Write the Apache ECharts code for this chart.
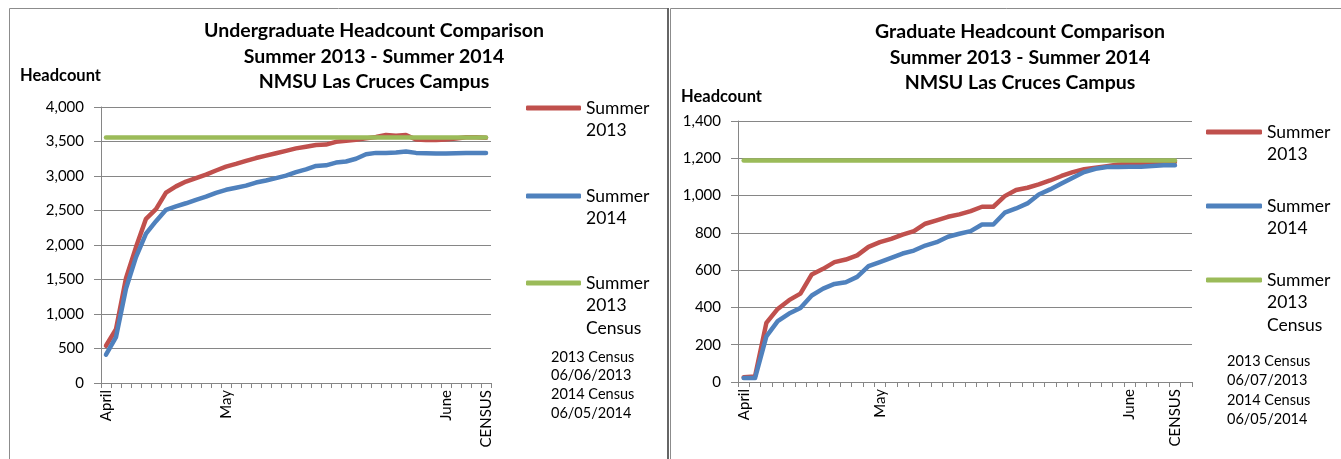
<!DOCTYPE html>
<html><head><meta charset="utf-8">
<script src="https://cdn.jsdelivr.net/npm/echarts@6/dist/echarts.min.js"></script>
<style>html,body{margin:0;padding:0;background:#fff}#c{width:1341px;height:459px}</style>
</head><body><div id="c"></div>
<script>
// ---- Data ----
const ugCategories = ['April','','','','','','','','','','','','May','','','','','','','','','','','','','','','','','','','','','','June','','','','CENSUS'];
const grCategories = ['April','','','','','','','','','','','','May','','','','','','','','','','','','','','','','','','','','','','June','','','','CENSUS',''];

const ug2013 = [540, 780, 1520, 1970, 2380, 2520, 2760, 2850, 2920, 2970, 3020, 3080, 3135, 3175, 3220, 3260, 3295, 3330, 3365, 3400, 3425, 3450, 3455, 3495, 3510, 3525, 3545, 3565, 3595, 3585, 3595, 3530, 3520, 3520, 3530, 3545, 3560, 3560, 3555];
const ug2014 = [410, 665, 1370, 1825, 2165, 2345, 2510, 2560, 2605, 2655, 2700, 2755, 2800, 2830, 2860, 2905, 2935, 2970, 3005, 3055, 3095, 3145, 3155, 3195, 3210, 3250, 3315, 3335, 3335, 3340, 3355, 3335, 3330, 3325, 3325, 3330, 3335, 3335, 3335];
const ugCensus = 3560;

const gr2013 = [25, 30, 317, 392, 439, 474, 577, 607, 643, 657, 679, 725, 750, 768, 791, 809, 849, 867, 886, 899, 917, 940, 940, 997, 1030, 1042, 1060, 1081, 1105, 1126, 1141, 1150, 1158, 1167, 1171, 1173, 1176, 1176, 1180];
const gr2014 = [21, 21, 245, 326, 367, 397, 464, 501, 526, 535, 564, 621, 643, 666, 689, 705, 732, 750, 779, 795, 809, 845, 845, 908, 931, 958, 1006, 1033, 1065, 1096, 1126, 1144, 1153, 1153, 1155, 1155, 1158, 1162, 1162];
const grCensus = 1187;

const ugTitle = 'Undergraduate Headcount Comparison\nSummer 2013 - Summer 2014\nNMSU Las Cruces Campus';
const grTitle = 'Graduate Headcount Comparison\nSummer 2013 - Summer 2014\nNMSU Las Cruces Campus';
const ugNote = '2013 Census\n06/06/2013\n2014 Census\n06/05/2014';
const grNote = '2013 Census\n06/07/2013\n2014 Census\n06/05/2014';
const yName = 'Headcount';
const seriesNames = ['Summer 2013', 'Summer 2014', 'Summer 2013 Census'];
const legendLines = {'Summer 2013': ['Summer', '2013'], 'Summer 2014': ['Summer', '2014'], 'Summer 2013 Census': ['Summer', '2013', 'Census']};

// ---- Styling ----
const FONT = 'Lato, "Noto Sans", sans-serif';
const RED = '#C0504D', BLUE = '#4F81BD', GREEN = '#9BBB59', AXIS = '#868686';
const LW = 4.5, LH = 22.5;

// The legend text block is centred on its icon; leading blank lines put the
// first line of the wrapped label level with the icon, as in the reference.
function legendText(name) {
  const lines = legendLines[name];
  return '\n'.repeat(lines.length - 1) + lines.join('\n');
}
function mkLegend(name, left, iconY, w, nLines) {
  const H = (2 * nLines - 1) * LH;
  return {
    orient: 'vertical', left: left, top: iconY - H / 2, padding: 0,
    itemWidth: w, itemHeight: 5, icon: 'roundRect', selectedMode: false,
    data: [{ name: name }],
    formatter: legendText,
    textStyle: { fontFamily: FONT, fontSize: 17.5, lineHeight: LH, color: '#000' }
  };
}

function xAx(grid, cats) {
  return {
    type: 'category', gridIndex: grid, data: cats, boundaryGap: true,
    axisLine: { lineStyle: { color: AXIS, width: 1 } },
    axisTick: { show: true, interval: 0, length: 5, lineStyle: { color: AXIS } },
    axisLabel: { interval: 0, rotate: 90, margin: 7, fontFamily: FONT, fontSize: 15, color: '#000' },
    splitLine: { show: false }
  };
}
function yAx(grid, max, interval, nameGap, nameStyle) {
  return {
    type: 'value', gridIndex: grid, min: 0, max: max, interval: interval,
    name: yName, nameLocation: 'end', nameGap: nameGap,
    nameTextStyle: Object.assign({ fontFamily: FONT, fontWeight: 'bold', fontSize: 16.5, color: '#000', verticalAlign: 'middle' }, nameStyle),
    axisLine: { show: true, lineStyle: { color: AXIS, width: 1 } },
    axisTick: { show: true, length: 7, lineStyle: { color: AXIS } },
    splitLine: { show: true, lineStyle: { color: AXIS, width: 1 } },
    axisLabel: { margin: 17, formatter: v => v.toLocaleString('en-US'), fontFamily: FONT, fontSize: 15, color: '#000' }
  };
}
function lineSeries(name, grid, data, color, z) {
  return {
    name: name, type: 'line', xAxisIndex: grid, yAxisIndex: grid, data: data,
    symbol: 'none', showSymbol: false, color: color, z: z,
    lineStyle: { width: LW, color: color, cap: 'round', join: 'round' }
  };
}
function censusSeries(grid, value, lastIndex) {
  return {
    name: seriesNames[2], type: 'line', xAxisIndex: grid, yAxisIndex: grid, data: [],
    color: GREEN, z: 4, lineStyle: { width: LW, color: GREEN },
    markLine: {
      silent: true, symbol: ['none', 'none'], label: { show: false }, z: 4,
      lineStyle: { type: 'solid', width: LW, color: GREEN, cap: 'round' },
      emphasis: { disabled: true },
      data: [[{ coord: [0, value] }, { coord: [lastIndex, value] }]]
    }
  };
}

const chart = echarts.init(document.getElementById('c'), null, { renderer: 'canvas' });
chart.setOption({
  animation: false,
  backgroundColor: '#fff',
  graphic: [
    { type: 'rect', silent: true, z: -10, shape: { x: 9.5, y: 8.5, width: 658, height: 470 }, style: { fill: 'none', stroke: '#8c8c8c', lineWidth: 1 } },
    { type: 'rect', silent: true, z: -10, shape: { x: 670.5, y: 8.5, width: 690, height: 470 }, style: { fill: 'none', stroke: '#8c8c8c', lineWidth: 1 } },
    { type: 'line', silent: true, z: -9, shape: { x1: 668, y1: 8, x2: 668, y2: 459 }, style: { stroke: '#666', lineWidth: 2 } }
  ],
  title: [
    { text: ugTitle, left: 374, top: 18.25, textAlign: 'center', padding: 0,
      textStyle: { fontFamily: FONT, fontWeight: 'bold', fontSize: 19.5, lineHeight: 25.5, color: '#000' } },
    { text: grTitle, left: 1020, top: 19, textAlign: 'center', padding: 0,
      textStyle: { fontFamily: FONT, fontWeight: 'bold', fontSize: 19.5, lineHeight: 25.5, color: '#000' } },
    { text: ugNote, left: 551, top: 347.6, padding: 0,
      textStyle: { fontFamily: FONT, fontWeight: 'normal', fontSize: 14.5, lineHeight: 18.8, color: '#000' } },
    { text: grNote, left: 1227, top: 351.25, padding: 0,
      textStyle: { fontFamily: FONT, fontWeight: 'normal', fontSize: 14.5, lineHeight: 19.5, color: '#000' } }
  ],
  legend: [
    mkLegend(seriesNames[0], 526, 108, 55, 2),
    mkLegend(seriesNames[1], 526, 196, 55, 2),
    mkLegend(seriesNames[2], 526, 283, 55, 3),
    mkLegend(seriesNames[0], 1206, 132, 56, 2),
    mkLegend(seriesNames[1], 1206, 206, 56, 2),
    mkLegend(seriesNames[2], 1206, 280, 56, 3)
  ],
  grid: [
    { left: 101, top: 107, width: 390, height: 276, containLabel: false, outerBoundsMode: 'none' },
    { left: 738, top: 121, width: 454, height: 261, containLabel: false, outerBoundsMode: 'none' }
  ],
  xAxis: [xAx(0, ugCategories), xAx(1, grCategories)],
  yAxis: [
    yAx(0, 4000, 500, 31, { align: 'right' }),
    yAx(1, 1400, 200, 24, { align: 'center', padding: [0, 33, 0, 0] })
  ],
  series: [
    lineSeries(seriesNames[0], 0, ug2013, RED, 2),
    lineSeries(seriesNames[1], 0, ug2014, BLUE, 3),
    censusSeries(0, ugCensus, ug2013.length - 1),
    lineSeries(seriesNames[0], 1, gr2013, RED, 2),
    lineSeries(seriesNames[1], 1, gr2014, BLUE, 3),
    censusSeries(1, grCensus, gr2013.length - 1)
  ]
});
</script>
</body></html>
